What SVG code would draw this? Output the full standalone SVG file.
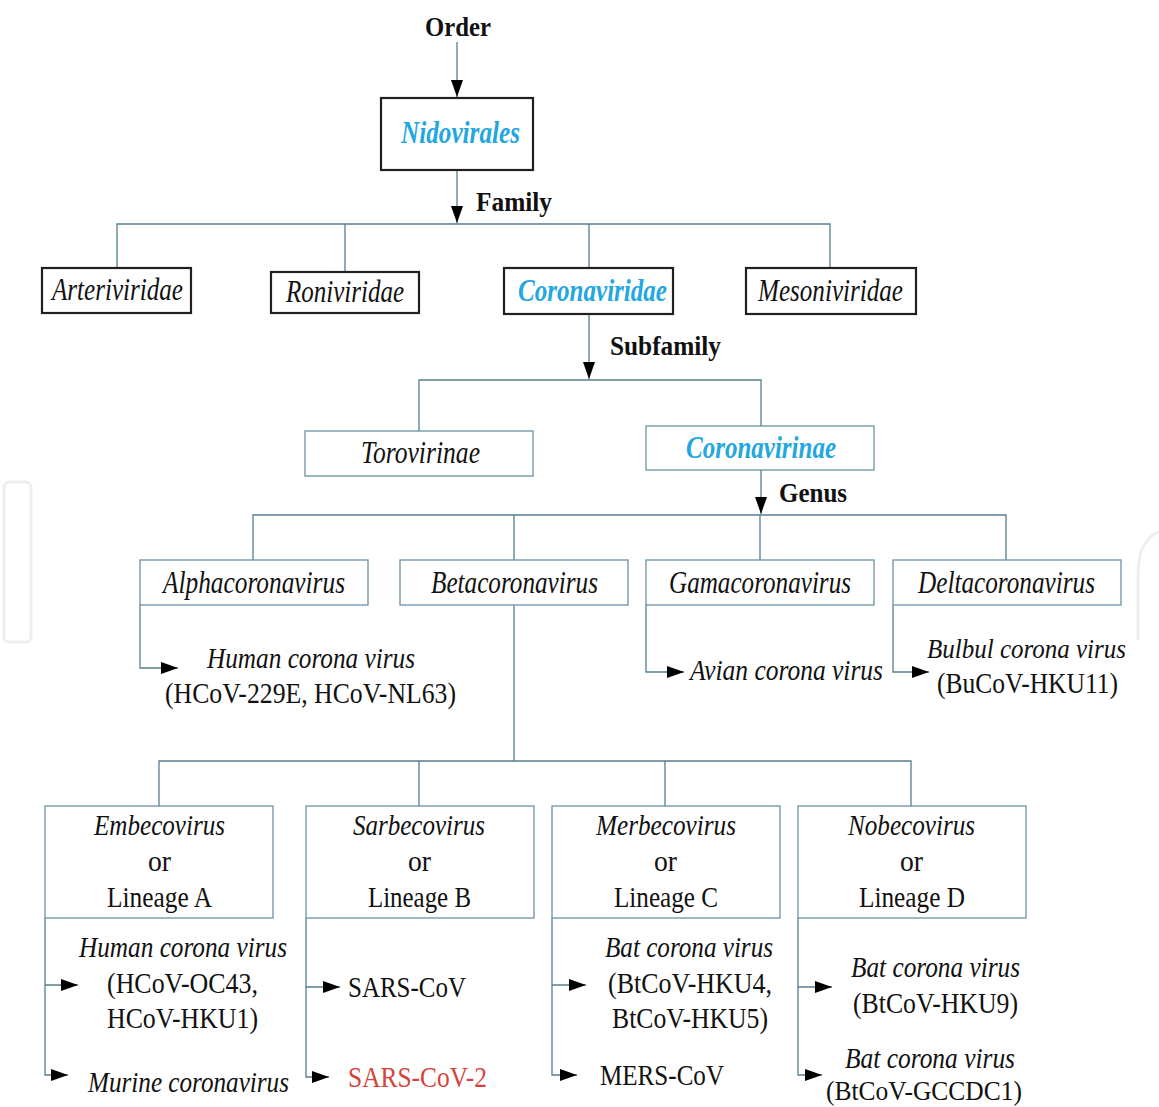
<svg xmlns="http://www.w3.org/2000/svg" width="1159" height="1107" viewBox="0 0 1159 1107">
<defs>
<marker id="arr" viewBox="0 0 17 12" refX="17" refY="6" markerWidth="17" markerHeight="12" markerUnits="userSpaceOnUse" orient="auto"><path d="M0,0 L17,6 L0,12 z" fill="#000"/></marker>
<style>
text{font-family:"Liberation Serif","Times New Roman",serif;font-size:30px;fill:#111;}
.b{font-weight:bold;font-size:28px;}
.i{font-style:italic;}
.bx{font-size:31px;}
.blue{fill:#22a7e0;font-weight:bold;}
.red{fill:#d5443a;}
.thick{fill:#fff;stroke:#231f20;stroke-width:2.2;}
.thin{fill:#fff;stroke:#6b93a3;stroke-width:1.3;}
.ln{fill:none;stroke:#557f8f;stroke-width:1.3;}
.wm{fill:none;stroke:#eceff0;stroke-width:3;}
</style>
</defs>
<rect width="1159" height="1107" fill="#fff"/>
<g id="watermark">
<rect class="wm" x="4" y="482" width="27" height="160" rx="5"/>
<path class="wm" d="M1138,640 L1138,575 Q1138,540 1159,532"/>
</g>
<g id="connectors">
<path class="ln" d="M457,42 V97" marker-end="url(#arr)"/>
<path class="ln" d="M457,170 V223" marker-end="url(#arr)"/>
<path class="ln" d="M117,268 V224 H830 V268 M345,224 V272 M589,224 V268"/>
<path class="ln" d="M589,314 V379" marker-end="url(#arr)"/>
<path class="ln" d="M419,431 V380 H761 V426"/>
<path class="ln" d="M761,470 V514" marker-end="url(#arr)"/>
<path class="ln" d="M253,560 V515 H1006 V560 M514,515 V560 M760,515 V560"/>
<path class="ln" d="M140,605 V668 H178" marker-end="url(#arr)"/>
<path class="ln" d="M646,605 V672 H684" marker-end="url(#arr)"/>
<path class="ln" d="M893,605 V672 H929" marker-end="url(#arr)"/>
<path class="ln" d="M514,605 V761 M159,806 V761 H911 V806 M419,761 V806 M665,761 V806"/>
<path class="ln" d="M45,918 V1075 H68" marker-end="url(#arr)"/>
<path class="ln" d="M45,985 H78" marker-end="url(#arr)"/>
<path class="ln" d="M306,918 V1077 H329" marker-end="url(#arr)"/>
<path class="ln" d="M306,987 H340" marker-end="url(#arr)"/>
<path class="ln" d="M552,918 V1075 H577" marker-end="url(#arr)"/>
<path class="ln" d="M552,985 H586" marker-end="url(#arr)"/>
<path class="ln" d="M798,918 V1075 H822" marker-end="url(#arr)"/>
<path class="ln" d="M798,987 H832" marker-end="url(#arr)"/>
</g>
<g id="labels">
<text class="b" x="425" y="36" textLength="66" lengthAdjust="spacingAndGlyphs">Order</text>
<text class="b" x="476" y="211" textLength="76" lengthAdjust="spacingAndGlyphs">Family</text>
<text class="b" x="610" y="355" textLength="111" lengthAdjust="spacingAndGlyphs">Subfamily</text>
<text class="b" x="779" y="502" textLength="68" lengthAdjust="spacingAndGlyphs">Genus</text>
</g>
<g id="nidovirales"><rect class="thick" x="381" y="98" width="152" height="72"/><text class="i bx blue" x="401" y="143" textLength="119" lengthAdjust="spacingAndGlyphs">Nidovirales</text></g>
<g id="arteriviridae"><rect class="thick" x="42" y="268" width="149" height="45"/><text class="i bx" x="52" y="300" textLength="131" lengthAdjust="spacingAndGlyphs">Arteriviridae</text></g>
<g id="roniviridae"><rect class="thick" x="271" y="272" width="148" height="41"/><text class="i bx" x="286" y="302" textLength="118" lengthAdjust="spacingAndGlyphs">Roniviridae</text></g>
<g id="coronaviridae"><rect class="thick" x="504" y="268" width="169" height="46"/><text class="i bx blue" x="518" y="301" textLength="149" lengthAdjust="spacingAndGlyphs">Coronaviridae</text></g>
<g id="mesoniviridae"><rect class="thick" x="746" y="268" width="170" height="46"/><text class="i bx" x="758" y="301" textLength="145" lengthAdjust="spacingAndGlyphs">Mesoniviridae</text></g>
<g id="torovirinae"><rect class="thin" x="305" y="431" width="228" height="45"/><text class="i bx" x="361" y="463" textLength="119" lengthAdjust="spacingAndGlyphs">Torovirinae</text></g>
<g id="coronavirinae"><rect class="thin" x="646" y="426" width="228" height="44"/><text class="i bx blue" x="686" y="458" textLength="150" lengthAdjust="spacingAndGlyphs">Coronavirinae</text></g>
<g id="alphacoronavirus"><rect class="thin" x="140" y="560" width="228" height="45"/><text class="i bx" x="163" y="593" textLength="182" lengthAdjust="spacingAndGlyphs">Alphacoronavirus</text></g>
<g id="betacoronavirus"><rect class="thin" x="400" y="560" width="228" height="45"/><text class="i bx" x="431" y="593" textLength="167" lengthAdjust="spacingAndGlyphs">Betacoronavirus</text></g>
<g id="gamacoronavirus"><rect class="thin" x="646" y="560" width="228" height="45"/><text class="i bx" x="669" y="593" textLength="182" lengthAdjust="spacingAndGlyphs">Gamacoronavirus</text></g>
<g id="deltacoronavirus"><rect class="thin" x="893" y="560" width="228" height="45"/><text class="i bx" x="918" y="593" textLength="177" lengthAdjust="spacingAndGlyphs">Deltacoronavirus</text></g>
<g id="alpha-species">
<text class="i" x="207" y="668" textLength="208" lengthAdjust="spacingAndGlyphs">Human corona virus</text>
<text x="165" y="703" textLength="291" lengthAdjust="spacingAndGlyphs">(HCoV-229E, HCoV-NL63)</text>
</g>
<g id="gama-species"><text class="i" x="690" y="680" textLength="193" lengthAdjust="spacingAndGlyphs">Avian corona virus</text></g>
<g id="delta-species">
<text class="i" x="927" y="658" textLength="199" lengthAdjust="spacingAndGlyphs" style="font-size:28px">Bulbul corona virus</text>
<text x="937" y="693" textLength="181" lengthAdjust="spacingAndGlyphs">(BuCoV-HKU11)</text>
</g>
<g id="lineage-a"><rect class="thin" x="45" y="806" width="228" height="112"/>
<text class="i" x="94" y="835" textLength="131" lengthAdjust="spacingAndGlyphs">Embecovirus</text>
<text x="148" y="871" textLength="23" lengthAdjust="spacingAndGlyphs">or</text>
<text x="107" y="907" textLength="105" lengthAdjust="spacingAndGlyphs">Lineage A</text></g>
<g id="lineage-b"><rect class="thin" x="306" y="806" width="228" height="112"/>
<text class="i" x="353" y="835" textLength="132" lengthAdjust="spacingAndGlyphs">Sarbecovirus</text>
<text x="408" y="871" textLength="23" lengthAdjust="spacingAndGlyphs">or</text>
<text x="368" y="907" textLength="103" lengthAdjust="spacingAndGlyphs">Lineage B</text></g>
<g id="lineage-c"><rect class="thin" x="552" y="806" width="228" height="112"/>
<text class="i" x="596" y="835" textLength="140" lengthAdjust="spacingAndGlyphs">Merbecovirus</text>
<text x="654" y="871" textLength="23" lengthAdjust="spacingAndGlyphs">or</text>
<text x="614" y="907" textLength="104" lengthAdjust="spacingAndGlyphs">Lineage C</text></g>
<g id="lineage-d"><rect class="thin" x="798" y="806" width="228" height="112"/>
<text class="i" x="848" y="835" textLength="127" lengthAdjust="spacingAndGlyphs">Nobecovirus</text>
<text x="900" y="871" textLength="23" lengthAdjust="spacingAndGlyphs">or</text>
<text x="859" y="907" textLength="106" lengthAdjust="spacingAndGlyphs">Lineage D</text></g>
<g id="lineage-a-species">
<text class="i" x="79" y="957" textLength="208" lengthAdjust="spacingAndGlyphs">Human corona virus</text>
<text x="107" y="993" textLength="151" lengthAdjust="spacingAndGlyphs">(HCoV-OC43,</text>
<text x="107" y="1028" textLength="151" lengthAdjust="spacingAndGlyphs">HCoV-HKU1)</text>
<text class="i" x="88" y="1092" textLength="201" lengthAdjust="spacingAndGlyphs">Murine coronavirus</text>
</g>
<g id="lineage-b-species">
<text x="348" y="997" textLength="118" lengthAdjust="spacingAndGlyphs">SARS-CoV</text>
<text class="red" x="348" y="1087" textLength="139" lengthAdjust="spacingAndGlyphs">SARS-CoV-2</text>
</g>
<g id="lineage-c-species">
<text class="i" x="605" y="957" textLength="168" lengthAdjust="spacingAndGlyphs">Bat corona virus</text>
<text x="608" y="993" textLength="164" lengthAdjust="spacingAndGlyphs">(BtCoV-HKU4,</text>
<text x="612" y="1028" textLength="156" lengthAdjust="spacingAndGlyphs">BtCoV-HKU5)</text>
<text x="600" y="1085" textLength="124" lengthAdjust="spacingAndGlyphs">MERS-CoV</text>
</g>
<g id="lineage-d-species">
<text class="i" x="851" y="977" textLength="169" lengthAdjust="spacingAndGlyphs">Bat corona virus</text>
<text x="853" y="1013" textLength="165" lengthAdjust="spacingAndGlyphs">(BtCoV-HKU9)</text>
<text class="i" x="845" y="1068" textLength="170" lengthAdjust="spacingAndGlyphs">Bat corona virus</text>
<text x="826" y="1100" textLength="196" lengthAdjust="spacingAndGlyphs" style="font-size:28px">(BtCoV-GCCDC1)</text>
</g>
</svg>
